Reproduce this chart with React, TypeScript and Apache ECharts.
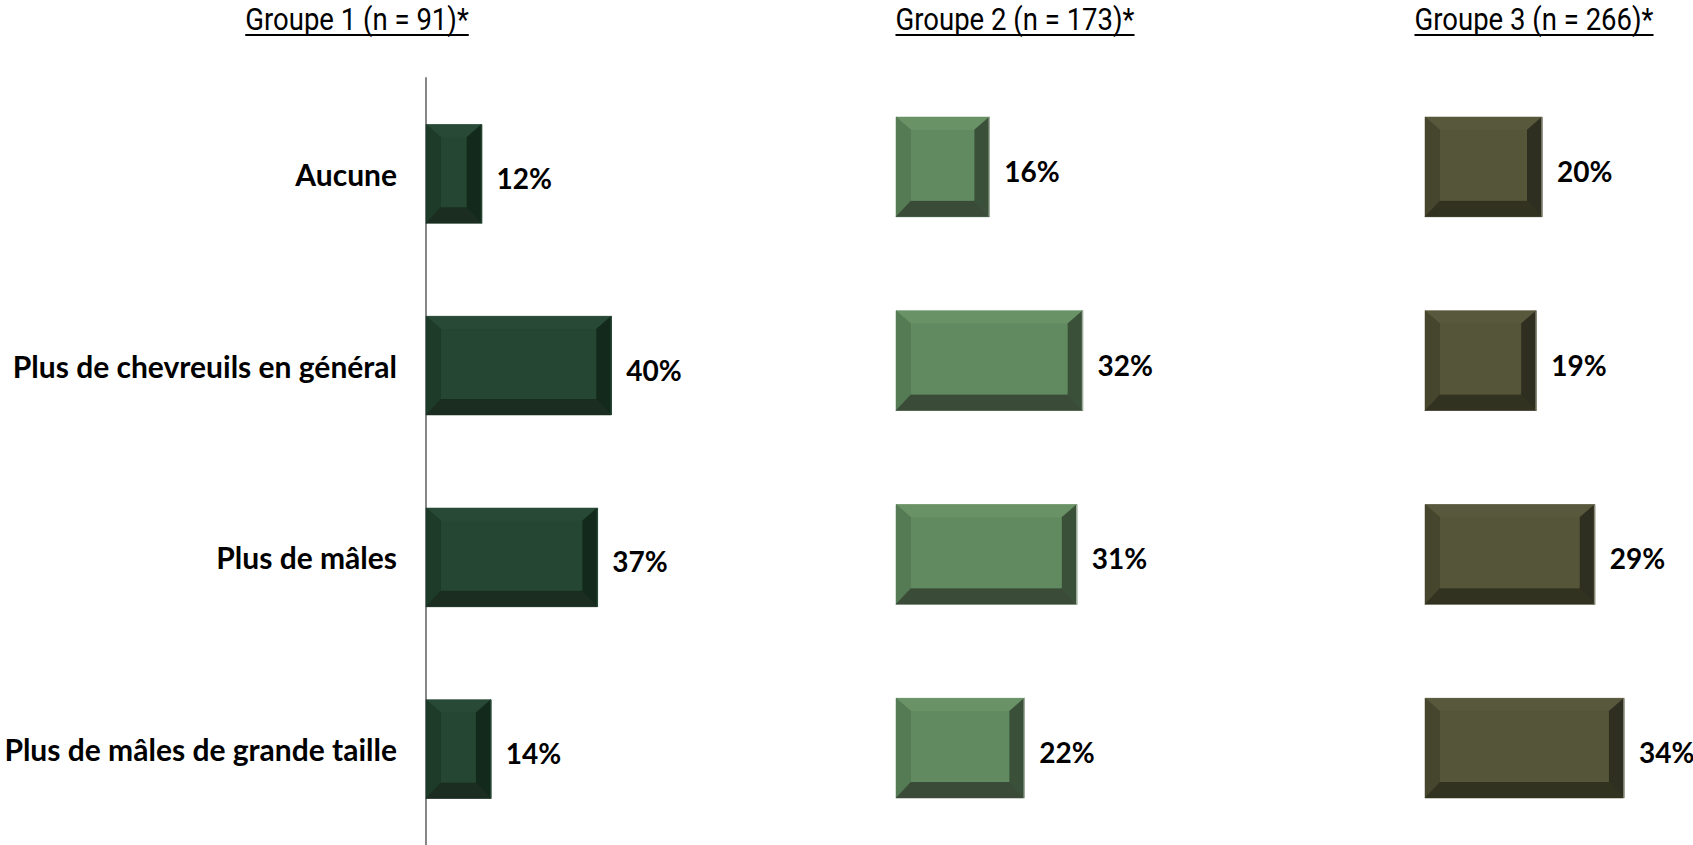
import React, { useEffect, useRef } from "react";
import * as echarts from "echarts";

const categories = [
  "Aucune",
  "Plus de chevreuils en général",
  "Plus de mâles",
  "Plus de mâles de grande taille",
];
const group1Values = [12, 40, 37, 14];
const group2Values = [16, 32, 31, 22];
const group3Values = [20, 19, 29, 34];
const groupTitles = ["Groupe 1 (n = 91)*", "Groupe 2 (n = 173)*", "Groupe 3 (n = 266)*"];

const palettes = [
  { face: "#254633", top: "#274935", left: "#1e3a29", right: "#13291b", bottom: "#1a2d20", edge: "#254633" },
  { face: "#628a60", top: "#6a9267", left: "#557b54", right: "#3a5039", bottom: "#3a4c38", edge: "#9eac9a" },
  { face: "#55553a", top: "#58583c", left: "#46462e", right: "#2e2f20", bottom: "#323221", edge: "#8a8a78" },
];

const TITLE_FONT = '"Liberation Sans Narrow", "Arial Narrow", Roboto, sans-serif';
const LABEL_FONT = 'Lato, "Open Sans", sans-serif';
const TITLE_SCALE_X = 0.86;

function makeRender(pal: any) {
  return (params: any, api: any) => {
    const v = api.value(0);
    const c = api.value(1);
    const p0 = api.coord([0, c]);
    const p1 = api.coord([v, c]);
    const band = api.size([0, 1])[1];
    const h = band * 0.515;
    const x0 = p0[0];
    const x1 = p1[0];
    const yT = p0[1] - h / 2;
    const yB = p0[1] + h / 2;
    const b = 15;
    const ix0 = x0 + b;
    const ix1 = x1 - b;
    const iyT = yT + 13;
    const iyB = yB - 16;
    const poly = (points: number[][], fill: string) => ({
      type: "polygon",
      shape: { points },
      style: { fill, stroke: fill, lineWidth: 0.5 },
    });
    return {
      type: "group",
      children: [
        { type: "rect", shape: { x: x0, y: yT, width: x1 - x0, height: yB - yT }, style: { fill: pal.face } },
        poly([[x0, yT], [x1, yT], [ix1, iyT], [ix0, iyT]], pal.top),
        poly([[x0, yT], [ix0, iyT], [ix0, iyB], [x0, yB]], pal.left),
        poly([[x1, yT], [x1, yB], [ix1, iyB], [ix1, iyT]], pal.right),
        poly([[x0, yB], [ix0, iyB], [ix1, iyB], [x1, yB]], pal.bottom),
        { type: "rect", shape: { x: ix0, y: iyT, width: ix1 - ix0, height: iyB - iyT }, style: { fill: pal.face } },
        { type: "line", shape: { x1: x1, y1: yT, x2: x1, y2: yB }, style: { stroke: pal.edge, lineWidth: 1.5 } },
        {
          type: "text",
          x: x1 + 15,
          y: p0[1] + 4,
          style: {
            text: v + "%",
            fill: "#000",
            font: "bold 28px " + LABEL_FONT,
            textAlign: "left",
            textVerticalAlign: "middle",
          },
        },
      ],
    };
  };
}

export default function App() {
  const ref = useRef<HTMLDivElement>(null);
  useEffect(() => {
    if (!ref.current) return;
    const chart = echarts.init(ref.current, null, { renderer: "svg" });

    const titleCenters = [357, 1015, 1534];
    const canvas = document.createElement("canvas");
    const ctx = canvas.getContext("2d")!;
    ctx.font = "32px " + TITLE_FONT;
    const graphics: any[] = [];
    groupTitles.forEach((t, i) => {
      const w = ctx.measureText(t).width * TITLE_SCALE_X;
      graphics.push({
        type: "text",
        x: titleCenters[i],
        y: 19,
        scaleX: TITLE_SCALE_X,
        style: {
          text: t,
          fill: "#000",
          font: "32px " + TITLE_FONT,
          textAlign: "center",
          textVerticalAlign: "middle",
        },
      });
      graphics.push({
        type: "line",
        shape: { x1: titleCenters[i] - w / 2, y1: 35, x2: titleCenters[i] + w / 2, y2: 35 },
        style: { stroke: "#000", lineWidth: 2 },
      });
    });

    const grids = [
      { left: 426, top: 78, height: 767, width: 463 * 0.5 },
      { left: 896, top: 70, height: 776, width: 583 * 0.4 },
      { left: 1425, top: 70, height: 776, width: 585 * 0.4 },
    ];
    const maxes = [50, 40, 40];
    const values = [group1Values, group2Values, group3Values];

    chart.setOption({
      animation: false,
      backgroundColor: "#fff",
      graphic: graphics,
      grid: grids.map((g) => ({ ...g, containLabel: false })),
      xAxis: grids.map((_, i) => ({
        type: "value",
        gridIndex: i,
        min: 0,
        max: maxes[i],
        show: false,
        splitLine: { show: false },
      })),
      yAxis: grids.map((_, i) => ({
        type: "category",
        gridIndex: i,
        data: categories,
        inverse: true,
        show: i === 0,
        axisLine: { show: i === 0, lineStyle: { color: "#868686", width: 2 } },
        axisTick: { show: false },
        axisLabel: {
          show: i === 0,
          margin: 29,
          color: "#000",
          fontWeight: "bold",
          fontSize: 30,
          fontFamily: LABEL_FONT,
        },
        splitLine: { show: false },
      })),
      series: values.map((vals, i) => ({
        type: "custom",
        xAxisIndex: i,
        yAxisIndex: i,
        renderItem: makeRender(palettes[i]),
        data: vals.map((v, ci) => [v, ci]),
        encode: { x: 0, y: 1 },
        clip: false,
      })),
    });
    return () => chart.dispose();
  }, []);
  return (
    <div
      ref={ref}
      style={{ position: "fixed", left: 0, top: 0, width: 1693, height: 845 }}
    />
  );
}
